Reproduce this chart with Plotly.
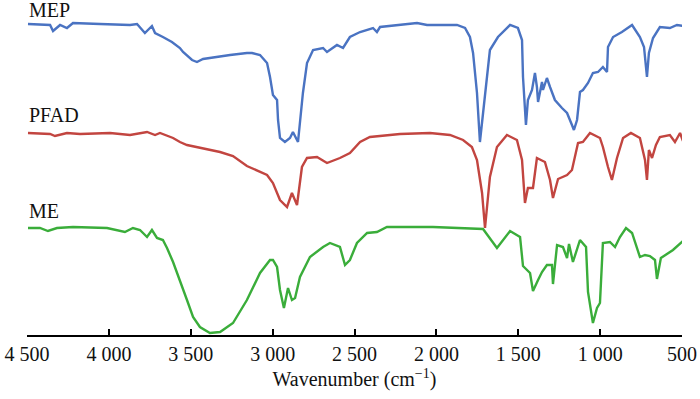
import plotly.graph_objects as go

# Wavenumber (cm^-1) and relative intensity (a.u., offset spectra)
mep_wn = [4494, 4359, 4341, 4298, 4256, 4219, 4054, 3871, 3828, 3780, 3737, 3718, 3670, 3615, 3566, 3547,
          3492, 3462, 3425, 3352, 3260, 3157, 3126, 3077, 3034, 3016, 2998, 2973, 2967, 2955, 2925, 2894,
          2876, 2845, 2833, 2815, 2790, 2753, 2692, 2668, 2607, 2570, 2528, 2466, 2387, 2363, 2344, 2241,
          2118, 2057, 1874, 1825, 1795, 1776, 1752, 1734, 1703, 1673, 1624, 1550, 1502, 1477, 1471, 1453,
          1441, 1416, 1398, 1386, 1379, 1355, 1349, 1325, 1306, 1276, 1233, 1202, 1172, 1160, 1141, 1123,
          1105, 1074, 1044, 1013, 983, 958, 952, 921, 867, 805, 757, 732, 714, 702, 677, 635, 574, 531, 494]
mep_val = [311, 310, 304, 310, 307, 312, 311, 310, 311, 302, 309, 302, 298, 293, 287, 283,
           275, 273, 276, 278, 280, 282, 282, 280, 272, 258, 240, 235, 215, 197, 193, 197,
           203, 193, 215, 242, 272, 285, 287, 283, 290, 287, 298, 303, 307, 303, 308, 310,
           312, 310, 310, 307, 298, 282, 242, 193, 242, 285, 298, 310, 307, 295, 258, 210,
           235, 245, 262, 248, 233, 253, 245, 257, 248, 235, 227, 222, 210, 205, 215, 243,
           245, 252, 262, 263, 268, 263, 288, 298, 303, 310, 298, 288, 258, 282, 297, 308, 307, 310, 309]

pfad_wn = [4494, 4359, 4329, 4256, 4176, 3993, 3871, 3767, 3718, 3688, 3608, 3566, 3523, 3444, 3321, 3242,
           3157, 3034, 2998, 2955, 2912, 2882, 2851, 2821, 2790, 2729, 2668, 2589, 2528, 2466, 2406, 2222,
           2039, 1917, 1837, 1783, 1752, 1721, 1703, 1673, 1630, 1569, 1508, 1477, 1459, 1441, 1410, 1386,
           1337, 1306, 1288, 1257, 1202, 1172, 1135, 1105, 1062, 1001, 983, 952, 928, 897, 860, 812,
           757, 726, 714, 702, 683, 659, 635, 574, 543, 512, 494]
pfad_val = [202, 201, 199, 202, 201, 202, 200, 203, 200, 202, 197, 193, 190, 187, 183, 179,
            169, 160, 152, 135, 128, 142, 130, 168, 177, 178, 172, 177, 182, 193, 198, 201,
            202, 200, 195, 188, 175, 142, 107, 158, 188, 200, 195, 175, 132, 147, 147, 177,
            173, 155, 137, 156, 160, 165, 192, 193, 202, 197, 188, 168, 155, 177, 197, 202,
            197, 175, 155, 185, 177, 190, 198, 200, 193, 202, 194]

me_wn = [4494, 4421, 4372, 4317, 4219, 4011, 3902, 3853, 3810, 3767, 3737, 3706, 3670, 3645, 3608, 3566,
         3523, 3486, 3444, 3383, 3321, 3242, 3157, 3077, 3016, 2998, 2973, 2955, 2931, 2906, 2882, 2863,
         2833, 2772, 2692, 2650, 2589, 2558, 2528, 2485, 2423, 2363, 2302, 2021, 1715, 1630, 1550, 1489,
         1471, 1428, 1410, 1379, 1355, 1325, 1294, 1288, 1263, 1227, 1202, 1190, 1166, 1123, 1086, 1074,
         1044, 1019, 1001, 983, 940, 909, 879, 842, 805, 757, 726, 696, 665, 653, 629, 555, 494]
me_val = [107, 107, 104, 107, 108, 107, 103, 107, 105, 98, 105, 97, 95, 87, 73, 55,
          35, 18, 8, 2, 3, 12, 35, 62, 75, 75, 68, 45, 27, 47, 35, 37,
          58, 78, 88, 92, 88, 70, 75, 92, 102, 103, 108, 108, 106, 87, 104, 98,
          69, 62, 44, 55, 63, 70, 70, 51, 90, 88, 77, 91, 73, 95, 88, 43,
          12, 27, 32, 92, 93, 88, 98, 107, 102, 78, 80, 79, 75, 56, 77, 85, 94]

tick_vals = [4500, 4000, 3500, 3000, 2500, 2000, 1500, 1000, 500]
tick_text = ["4 500", "4 000", "3 500", "3 000", "2 500", "2 000", "1 500", "1 000", "500"]

series = [("MEP", mep_wn, mep_val, "#4a73c2", 325),
          ("PFAD", pfad_wn, pfad_val, "#c24540", 220),
          ("ME", me_wn, me_val, "#3aad3a", 124)]

FONT = "Times New Roman, Liberation Serif, DejaVu Serif, serif"

fig = go.Figure()
for name, wn, val, col, lab_y in series:
    fig.add_trace(go.Scatter(x=wn, y=val, mode="lines", name=name,
                             line=dict(color=col, width=2.4), showlegend=False))
    fig.add_annotation(x=4500, y=lab_y, xref="x", yref="y", text=name, showarrow=False,
                       xanchor="left", yanchor="middle", font=dict(family=FONT, size=20, color="#111"))

fig.update_layout(
    width=700, height=399,
    font=dict(family=FONT, size=20, color="#111"),
    margin=dict(l=27, r=18, t=5, b=64, autoexpand=False),
    paper_bgcolor="white", plot_bgcolor="white",
    xaxis=dict(range=[4500, 500], tickvals=tick_vals, ticktext=tick_text, automargin=False,
               ticks="inside", ticklen=6, tickwidth=2, tickcolor="black",
               showline=True, linecolor="black", linewidth=2, showgrid=False, zeroline=False,
               tickfont=dict(family=FONT, size=20, color="#111"),
               title=dict(text="Wavenumber (cm<sup>−1</sup>)", font=dict(family=FONT, size=20, color="#111"),
                          standoff=8)),
    yaxis=dict(range=[0, 330], visible=False, automargin=False),
)

fig.write_html("out.html", config={"displayModeBar": False},
               post_script="document.body.style.margin='0';")
